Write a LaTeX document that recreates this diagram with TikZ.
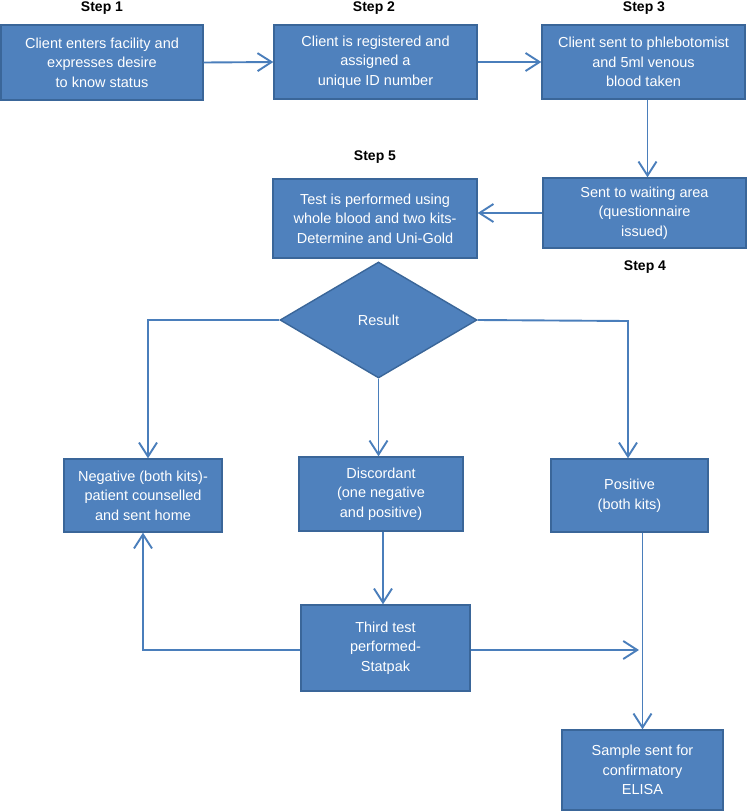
\documentclass[tikz,border=0pt]{standalone}
\usepackage{fontspec}
\setmainfont{Liberation Sans}
\usetikzlibrary{shapes.geometric,arrows.meta}
\definecolor{boxfill}{HTML}{4F81BD}
\definecolor{boxline}{HTML}{3A6699}
\definecolor{arr}{HTML}{4A7EBB}
\tikzset{
  box/.style={rectangle, fill=boxfill, draw=boxline, line width=1.4pt, text=white,
    align=center, inner sep=0pt, font=\fontsize{14.5}{19.5}\selectfont},
  steplbl/.style={font=\bfseries\fontsize{14}{16}\selectfont, inner sep=0pt},
  conn/.style={draw=arr, line width=1.9pt, -{Straight Barb[length=14pt,width=18pt,line width=1.9pt]}},
}
\begin{document}
\begin{tikzpicture}[x=1pt,y=-1pt]
\useasboundingbox (0,0) rectangle (747,812);
% step labels
\node[steplbl] (s1) at (102,8) {Step 1};
\node[steplbl] (s2) at (374,8) {Step 2};
\node[steplbl] (s3) at (644,8) {Step 3};
\node[steplbl] (s5) at (375,157) {Step 5};
\node[steplbl] (s4) at (645,267) {Step 4};
% boxes
\node[box, minimum width=202pt, minimum height=75pt] (b1) at (102,62.5)
  {Client enters facility and\\expresses desire\\to know status};
\node[box, minimum width=203pt, minimum height=74pt] (b2) at (375.5,62)
  {Client is registered and\\assigned a\\unique ID number};
\node[box, minimum width=203pt, minimum height=74pt] (b3) at (643.5,62)
  {Client sent to phlebotomist\\and 5ml venous\\blood taken};
\node[box, minimum width=203pt, minimum height=70pt] (b4) at (644.5,213)
  {Sent to waiting area\\(questionnaire\\issued)};
\node[box, minimum width=204pt, minimum height=79pt] (b5) at (375,218.5)
  {Test is performed using\\whole blood and two kits-\\Determine and Uni-Gold};
\node[diamond, fill=boxfill, draw=boxline, line width=1.4pt, text=white, inner sep=0pt,
  minimum width=197pt, minimum height=116pt, font=\fontsize{14.5}{19.5}\selectfont] (dia) at (378.5,320) {Result};
\node[box, minimum width=158pt, minimum height=73pt] (neg) at (143,495.5)
  {Negative (both kits)-\\patient counselled\\and sent home};
\node[box, minimum width=164pt, minimum height=74pt] (disc) at (381,494)
  {Discordant\\(one negative\\and positive)};
\node[box, minimum width=157pt, minimum height=73pt] (pos) at (629.5,495.5)
  {Positive\\(both kits)};
\node[box, minimum width=169pt, minimum height=86pt] (third) at (385.5,648)
  {Third test\\performed-\\Statpak};
\node[box, minimum width=161pt, minimum height=80pt] (samp) at (642.5,770)
  {Sample sent for\\confirmatory\\ELISA};
% connectors
\draw[conn] (b1.east) -- (b2.west);
\draw[conn] (b2.east) -- (b2.east -| b3.west);
\draw[conn] ([xshift=4pt]b3.south) -- ([xshift=4pt]b3.south |- b4.north);
\draw[conn] (b4.west) -- (b4.west -| b5.east);
\coordinate (nl) at (148,320);
\draw[conn] (dia.west) -- (nl) -- (nl |- neg.north);
\draw[conn] (dia.south) -- (dia.south |- disc.north);
\coordinate (pr) at (628,321);
\draw[conn] (dia.east) -- (pr) -- (pr |- pos.north);
\draw[conn] ([xshift=2pt]disc.south) -- ([xshift=2pt]disc.south |- third.north);
\coordinate (rl) at (143,650);
\draw[conn] (third.west |- rl) -- (rl) -- (neg.south);
\coordinate (rr) at (639,650);
\draw[conn] (third.east |- rr) -- (rr);
\draw[conn] (samp.north |- pos.south) -- (samp.north);
\end{tikzpicture}
\end{document}
